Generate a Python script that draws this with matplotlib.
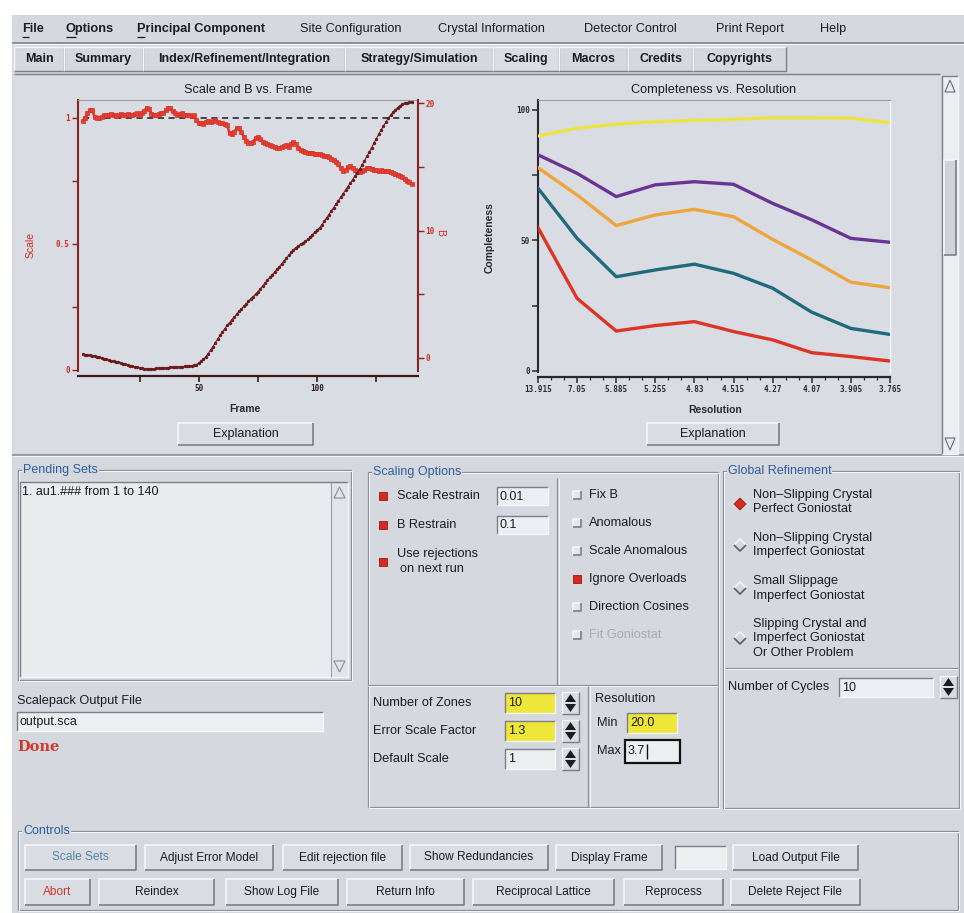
import matplotlib
matplotlib.use("Agg")
import matplotlib.pyplot as plt
from matplotlib.patches import Rectangle, Polygon

# ---------------- data ----------------
frames = list(range(1, 141))
scale_values = [
    0.988, 0.998, 1.018, 1.030, 1.032, 1.005, 1.000, 0.998, 1.005, 1.010,
    1.012, 1.010, 1.014, 1.012, 1.008, 1.012, 1.015, 1.010, 1.012, 1.016,
    1.012, 1.010, 1.015, 1.018, 1.012, 1.020, 1.028, 1.040, 1.035, 1.015,
    1.012, 1.010, 1.015, 1.020, 1.018, 1.030, 1.038, 1.040, 1.028, 1.018,
    1.012, 1.015, 1.018, 1.012, 1.010, 1.012, 1.008, 1.010, 0.990, 0.980,
    0.978, 0.976, 0.985, 0.988, 0.982, 0.986, 0.990, 0.984, 0.980, 0.978,
    0.975, 0.972, 0.940, 0.935, 0.945, 0.958, 0.960, 0.945, 0.925, 0.910,
    0.902, 0.900, 0.905, 0.920, 0.925, 0.915, 0.905, 0.900, 0.895, 0.892,
    0.888, 0.885, 0.882, 0.880, 0.884, 0.888, 0.892, 0.885, 0.895, 0.905,
    0.895, 0.880, 0.872, 0.868, 0.865, 0.862, 0.860, 0.862, 0.858, 0.856,
    0.858, 0.852, 0.850, 0.848, 0.845, 0.838, 0.832, 0.826, 0.818, 0.800,
    0.790, 0.792, 0.805, 0.810, 0.800, 0.792, 0.788, 0.785, 0.790, 0.795,
    0.800, 0.802, 0.798, 0.795, 0.792, 0.790, 0.792, 0.790, 0.788, 0.790,
    0.785, 0.780, 0.776, 0.772, 0.770, 0.765, 0.758, 0.750, 0.745, 0.738]
b_values = [
    0.30, 0.27, 0.24, 0.20, 0.18, 0.14, 0.10, 0.06, 0.02, -0.04,
    -0.10, -0.16, -0.20, -0.24, -0.30, -0.34, -0.38, -0.44, -0.50, -0.55,
    -0.60, -0.64, -0.68, -0.72, -0.76, -0.80, -0.84, -0.86, -0.86, -0.85,
    -0.84, -0.82, -0.80, -0.79, -0.78, -0.76, -0.75, -0.73, -0.72, -0.71,
    -0.70, -0.69, -0.68, -0.66, -0.64, -0.62, -0.60, -0.58, -0.52, -0.40,
    -0.25, -0.10, 0.10, 0.35, 0.62, 0.90, 1.20, 1.48, 1.78, 2.05,
    2.30, 2.55, 2.78, 3.00, 3.22, 3.45, 3.65, 3.85, 4.05, 4.25,
    4.45, 4.65, 4.82, 5.00, 5.20, 5.42, 5.65, 5.88, 6.10, 6.32,
    6.52, 6.74, 6.95, 7.15, 7.38, 7.60, 7.82, 8.05, 8.28, 8.50,
    8.65, 8.80, 8.92, 9.05, 9.15, 9.30, 9.48, 9.68, 9.88, 10.05,
    10.20, 10.45, 10.72, 10.98, 11.25, 11.52, 11.80, 12.08, 12.35, 12.62,
    12.90, 13.18, 13.45, 13.72, 14.00, 14.28, 14.55, 14.82, 15.15, 15.48,
    15.82, 16.15, 16.50, 16.85, 17.20, 17.55, 17.88, 18.20, 18.50, 18.80,
    19.05, 19.28, 19.48, 19.65, 19.80, 19.90, 19.98, 20.02, 20.05, 20.05]
reference_scale = 1.0
frame_ticks = [25, 50, 75, 100, 125]
frame_tick_labels = ["", "50", "", "100", ""]
scale_ticks = [0, 0.25, 0.5, 0.75, 1]
scale_tick_labels = ["0", "", "0.5", "", "1"]
b_ticks = [0, 5, 10, 15, 20]
b_tick_labels = ["0", "", "10", "", "20"]

resolution_labels = ["13.915", "7.05", "5.885", "5.255", "4.83",
                     "4.515", "4.27", "4.07", "3.905", "3.765"]
completeness_yellow = [90.0, 93.0, 94.5, 95.5, 96.0, 96.4, 97.0, 97.0, 96.8, 95.1]
completeness_purple = [82.8, 75.7, 66.8, 71.3, 72.5, 71.5, 64.2, 57.9, 50.8, 49.3]
completeness_orange = [77.9, 67.4, 55.7, 59.8, 61.9, 59.1, 50.4, 42.5, 34.0, 31.9]
completeness_teal = [70.0, 50.8, 36.1, 38.7, 40.9, 37.4, 31.7, 22.5, 16.3, 14.0]
completeness_red = [54.9, 27.8, 15.3, 17.4, 18.9, 15.1, 11.9, 7.0, 5.5, 3.8]
completeness_ticks = [0, 25, 50, 75, 100]
completeness_tick_labels = ["0", "", "50", "", "100"]

menu_items = ["File", "Options", "Principal Component", "Site Configuration",
              "Crystal Information", "Detector Control", "Print Report", "Help"]
menu_bold = [True, True, True, False, False, False, False, False]
tab_items = ["Main", "Summary", "Index/Refinement/Integration", "Strategy/Simulation",
             "Scaling", "Macros", "Credits", "Copyrights"]
left_options = ["Scale Restrain", "B Restrain"]
left_option_values = ["0.01", "0.1"]
right_options = ["Fix B", "Anomalous", "Scale Anomalous", "Ignore Overloads",
                 "Direction Cosines", "Fit Goniostat"]
right_checked = [False, False, False, True, False, False]
zone_fields = ["Number of Zones", "Error Scale Factor", "Default Scale"]
zone_values = ["10", "1.3", "1"]
refinement_options = [["Non\u2013Slipping Crystal", "Perfect Goniostat"],
                      ["Non\u2013Slipping Crystal", "Imperfect Goniostat"],
                      ["Small Slippage", "Imperfect Goniostat"],
                      ["Slipping Crystal and", "Imperfect Goniostat", "Or Other Problem"]]
buttons_row1 = ["Scale Sets", "Adjust Error Model", "Edit rejection file",
                "Show Redundancies", "Display Frame", "", "Load Output File"]
buttons_row2 = ["Abort", "Reindex", "Show Log File", "Return Info",
                "Reciprocal Lattice", "Reprocess", "Delete Reject File"]

# ---------------- figure ----------------
W, H = 964, 913
fig = plt.figure(figsize=(W / 100, H / 100), dpi=100)
fig.patch.set_facecolor("white")
gui = fig.add_axes([0, 0, 1, 1])
gui.set_xlim(0, W)
gui.set_ylim(H, 0)
gui.axis("off")

FONT = ["Liberation Sans", "DejaVu Sans"]
BG = "#d5d8df"
PANE = "#d9dce3"
LIGHT = "#f5f6f8"
DARK = "#7b7e86"
TXT = "#1c1c1c"
BLUE = "#2f5f9c"
RED = "#d42a20"
YELLOW = "#efe63a"
ENTRY = "#eceef2"


def rect(x0, y0, x1, y1, fc, ec="none", lw=1.0, z=1):
    gui.add_patch(Rectangle((x0, y0), x1 - x0, y1 - y0, facecolor=fc,
                            edgecolor=ec, linewidth=lw, zorder=z))


def line(xs, ys, c, lw=1.0, z=2):
    gui.plot(xs, ys, color=c, lw=lw, zorder=z, solid_capstyle="butt")


def txt(x, y, s, size=9, weight="normal", color=TXT, ha="left", va="center",
        family=None, **kw):
    gui.text(x, y, s, fontsize=size, fontweight=weight, color=color, ha=ha,
             va=va, family=family or FONT, zorder=5, **kw)


def bevel(x0, y0, x1, y1, raised=True, lw=1.0, z=3):
    a, b = (LIGHT, DARK) if raised else (DARK, LIGHT)
    line([x0, x0, x1], [y1, y0, y0], a, lw, z)
    line([x0, x1, x1], [y1, y1, y0], b, lw, z)


def button(x0, y0, x1, y1, label, color=TXT, size=8.6):
    rect(x0, y0, x1, y1, "#d9dce3", z=2)
    bevel(x0, y0, x1, y1, True, 1.2)
    txt((x0 + x1) / 2, (y0 + y1) / 2, label, size=size, color=color, ha="center")


def entry(x0, y0, x1, y1, value, fc=ENTRY, size=9):
    rect(x0, y0, x1, y1, fc, z=2)
    bevel(x0, y0, x1, y1, False, 1.0)
    txt(x0 + 3, (y0 + y1) / 2 + 0.5, value, size=size)


def group(x0, y0, x1, y1, title):
    gui.add_patch(Rectangle((x0, y0), x1 - x0, y1 - y0, fill=False,
                            edgecolor="#8d9097", linewidth=0.9, zorder=2))
    gui.add_patch(Rectangle((x0 + 1, y0 + 1), x1 - x0, y1 - y0, fill=False,
                            edgecolor=LIGHT, linewidth=0.7, zorder=2))
    txt(x0 + 5, y0, title, size=9, color=BLUE,
        bbox=dict(facecolor=BG, edgecolor="none", pad=0.5))


def checkbox(x, y, checked):
    if checked:
        rect(x - 4, y - 4, x + 4, y + 4, RED, "#9a1a14", 0.6, z=3)
    else:
        rect(x - 4, y - 4, x + 4, y + 4, "#e4e6ea", z=3)
        bevel(x - 4, y - 4, x + 4, y + 4, True, 1.2, z=4)


def radio(x, y, selected):
    pts = [(x - 6, y), (x, y - 6), (x + 6, y), (x, y + 6)]
    if selected:
        gui.add_patch(Polygon(pts, closed=True, facecolor=RED,
                              edgecolor="#9a1a14", lw=0.6, zorder=3))
    else:
        line([x - 6, x, x + 6], [y, y - 6, y], LIGHT, 1.2, 3)
        line([x - 6, x, x + 6], [y, y + 6, y], "#5a5d64", 1.2, 3)


def spinner(x0, y0, x1, y1):
    rect(x0, y0, x1, y1, "#d9dce3", z=2)
    bevel(x0, y0, x1, y1, True, 1.0)
    xm = (x0 + x1) / 2
    ym = (y0 + y1) / 2
    gui.add_patch(Polygon([(x0 + 3, ym - 1), (xm, y0 + 2), (x1 - 3, ym - 1)],
                          closed=True, facecolor="#1c1c1c", zorder=4))
    gui.add_patch(Polygon([(x0 + 3, ym + 1), (xm, y1 - 2), (x1 - 3, ym + 1)],
                          closed=True, facecolor="#1c1c1c", zorder=4))


# window background
rect(12, 15, W, H, BG, z=0)

# ---------------- menu bar ----------------
menu_x = [22, 66, 137, 300, 438, 584, 716, 820]
for mx, item, bold in zip(menu_x, menu_items, menu_bold):
    txt(mx, 29, item, size=9.2, weight="bold" if bold else "normal")
for ux, uw in [(22, 7), (66, 10), (137, 8)]:
    line([ux, ux + uw], [37, 37], TXT, 0.9, 5)
line([12, W], [43, 43], "#8a8d94", 1.4)
line([12, W], [44.5, 44.5], LIGHT, 0.8)

# ---------------- tabs ----------------
tab_edges = [14, 64, 143, 345, 493, 559, 628, 693, 786]
for i, lab in enumerate(tab_items):
    x0, x1 = tab_edges[i], tab_edges[i + 1]
    rect(x0, 47, x1, 71, "#dadde4" if lab == "Scaling" else BG, z=1)
    bevel(x0, 47, x1, 71, True, 1.0)
    txt((x0 + x1) / 2, 59, lab, size=9.0, weight="bold", ha="center")

# ---------------- chart pane ----------------
rect(14, 74, 940, 455, PANE, z=1)
line([14, 940], [74, 74], DARK, 1.0)
line([12, W], [455, 455], "#8a8d94", 1.2)
line([12, W], [456.5, 456.5], LIGHT, 0.8)
# scrollbar
rect(942, 76, 958, 454, "#eceef1", z=1)
bevel(942, 76, 958, 454, False, 1.0)
rect(944, 160, 956, 255, "#d0d3da", z=2)
bevel(944, 160, 956, 255, True, 1.2)
gui.add_patch(Polygon([(945, 92), (950, 80), (955, 92)], closed=True,
                      facecolor="none", edgecolor="#6a6d74", lw=0.8, zorder=3))
gui.add_patch(Polygon([(945, 438), (950, 450), (955, 438)], closed=True,
                      facecolor="none", edgecolor="#6a6d74", lw=0.8, zorder=3))

button(178, 423, 313, 445, "Explanation", size=9)
button(647, 423, 779, 445, "Explanation", size=9)


def ax_rect(x0, y0, x1, y1):
    return [x0 / W, 1 - y1 / H, (x1 - x0) / W, (y1 - y0) / H]


def style_ticklabels(labels, color):
    for t in labels:
        t.set_family("DejaVu Sans Mono")
        t.set_fontweight("bold")
        t.set_fontsize(5.5)
        t.set_color(color)


# ---------------- left chart ----------------
ax1 = fig.add_axes(ax_rect(78, 100, 418, 371))
ax1.patch.set_visible(False)
ax1b = ax1.twinx()
ax1b.patch.set_visible(False)
for a in (ax1, ax1b):
    for s in a.spines.values():
        s.set_visible(False)
ax1.spines["left"].set_visible(True)
ax1.spines["left"].set_color("#8b2222")
ax1.spines["left"].set_linewidth(1.5)
ax1.spines["bottom"].set_visible(True)
ax1.spines["bottom"].set_color("#3a1818")
ax1.spines["bottom"].set_linewidth(1.6)
ax1.spines["bottom"].set_position(("outward", 3.5))
ax1.spines["top"].set_visible(True)
ax1.spines["top"].set_color("#9a9ca3")
ax1.spines["top"].set_linewidth(0.8)
ax1b.spines["right"].set_visible(True)
ax1b.spines["right"].set_color("#8b2222")
ax1b.spines["right"].set_linewidth(1.5)

ax1.plot(frames, scale_values, color="#e2372b", lw=1.9, marker="s", ms=2.8,
         mfc="#e5402f", mec="#d8302a", mew=0.5, zorder=3)
ax1.hlines(reference_scale, frames[0], frames[-1], colors="#1a1a1a",
           linestyles=(0, (4, 3)), lw=1.1, zorder=2)
ax1b.plot(frames, b_values, color="#7c1f1f", lw=0.8, marker="o", ms=1.4,
          mec="#6a1a1a", mfc="#6a1a1a", zorder=3)
ax1.set_xlim(-1.0, 142.6)
ax1.set_ylim(-0.004, 1.071)
ax1b.set_ylim(-1.02, 20.24)
ax1.set_xticks(frame_ticks)
ax1.set_xticklabels(frame_tick_labels)
ax1.set_yticks(scale_ticks)
ax1.set_yticklabels(scale_tick_labels)
ax1b.set_yticks(b_ticks)
ax1b.set_yticklabels(b_tick_labels)
ax1.tick_params(axis="y", colors="#8b2222", length=4, width=1, pad=2)
ax1.tick_params(axis="x", colors="#3a1818", length=4, width=1.2, pad=2)
ax1b.tick_params(axis="y", colors="#8b2222", length=4, width=1, pad=1.5)
style_ticklabels(ax1.get_xticklabels(), "#2a1a1a")
style_ticklabels(ax1.get_yticklabels(), RED)
style_ticklabels(ax1b.get_yticklabels(), RED)
ax1.set_title("Scale and B vs. Frame", fontsize=9.2, family=FONT, color=TXT, pad=5)
ax1.set_xlabel("Frame", fontsize=7.5, fontweight="bold", family=FONT, color="#2a2a2a")
ax1.xaxis.set_label_coords(0.49, -0.12)
ax1.set_ylabel("Scale", fontsize=7.5, family=FONT, color=RED)
ax1.yaxis.set_label_coords(-0.124, 0.465)
ax1b.set_ylabel("B", fontsize=7.5, family=FONT, color=RED, rotation=270)
ax1b.yaxis.set_label_coords(1.08, 0.513)

# ---------------- right chart ----------------
ax2 = fig.add_axes(ax_rect(538, 100, 890, 372))
ax2.patch.set_visible(False)
for s in ax2.spines.values():
    s.set_visible(False)
ax2.spines["left"].set_visible(True)
ax2.spines["left"].set_color("#2a2a2a")
ax2.spines["left"].set_linewidth(1.5)
ax2.spines["bottom"].set_visible(True)
ax2.spines["bottom"].set_color("#2a2a2a")
ax2.spines["bottom"].set_linewidth(1.6)
ax2.spines["bottom"].set_position(("outward", 3.5))
ax2.spines["top"].set_visible(True)
ax2.spines["top"].set_color("#9a9ca3")
ax2.spines["top"].set_linewidth(0.8)
ax2.spines["right"].set_visible(True)
ax2.spines["right"].set_color(LIGHT)
ax2.spines["right"].set_linewidth(1.0)

xpos = list(range(len(resolution_labels)))
for vals, col in [(completeness_yellow, "#ece444"), (completeness_purple, "#6b3394"),
                  (completeness_orange, "#eea53c"), (completeness_teal, "#1f6a7c"),
                  (completeness_red, "#df3326")]:
    ax2.plot(xpos, vals, color=col, lw=2.4, solid_joinstyle="round", zorder=3)
ax2.set_xlim(0, len(resolution_labels) - 1)
ax2.set_ylim(-0.4, 103.8)
ax2.set_xticks(xpos)
ax2.set_xticklabels(resolution_labels)
ax2.set_xticks([p + f for p in xpos[:-1] for f in (1 / 3, 2 / 3)], minor=True)
ax2.set_yticks(completeness_ticks)
ax2.set_yticklabels(completeness_tick_labels)
ax2.tick_params(axis="both", which="major", colors="#2a2a2a", length=4, width=1.1, pad=2)
ax2.tick_params(axis="x", which="minor", colors="#2a2a2a", length=2.5, width=0.9)
style_ticklabels(ax2.get_xticklabels(), "#2a2a2a")
style_ticklabels(ax2.get_yticklabels(), "#2a2a2a")
ax2.set_title("Completeness vs. Resolution", fontsize=9.2, family=FONT, color=TXT, pad=5)
ax2.set_xlabel("Resolution", fontsize=7.5, fontweight="bold", family=FONT, color="#2a2a2a")
ax2.xaxis.set_label_coords(0.503, -0.12)
ax2.set_ylabel("Completeness", fontsize=7.5, fontweight="bold", family=FONT, color="#2a2a2a")
ax2.yaxis.set_label_coords(-0.122, 0.496)

# ---------------- pending sets ----------------
group(18, 470, 351, 680, "Pending Sets")
rect(20, 482, 331, 677, "#e9ebef", z=2)
bevel(20, 482, 348, 677, False, 1.0)
rect(331, 482, 348, 677, "#e2e4e9", z=2)
line([331, 331], [482, 677], "#9a9da4", 0.8, 3)
gui.add_patch(Polygon([(334, 498), (339.5, 487), (345, 498)], closed=True,
                      facecolor="none", edgecolor="#8a8d94", lw=0.8, zorder=3))
gui.add_patch(Polygon([(334, 661), (339.5, 672), (345, 661)], closed=True,
                      facecolor="none", edgecolor="#8a8d94", lw=0.8, zorder=3))
txt(22, 492, "1. au1.### from 1 to 140", size=9)
txt(17, 701, "Scalepack Output File", size=9.2)
entry(17, 712, 323, 731, "output.sca")
txt(17, 747, "Done", size=10.5, weight="bold", color="#d0392b", family=["DejaVu Serif"])

# ---------------- scaling options ----------------
group(368, 472, 718, 807, "Scaling Options")
line([557, 557], [478, 685], "#8d9097", 0.9)
line([558.5, 558.5], [478, 685], LIGHT, 0.7)
line([368, 718], [685, 685], "#8d9097", 0.9)
line([368, 718], [686.5, 686.5], LIGHT, 0.7)
line([588, 588], [686, 807], "#8d9097", 0.9)
line([589.5, 589.5], [686, 807], LIGHT, 0.7)

for i, (lab, val) in enumerate(zip(left_options, left_option_values)):
    y = 496 + 29 * i
    checkbox(383, y, True)
    txt(397, y, lab, size=9.2)
    entry(497, y - 9, 548, y + 9, val)
checkbox(383, 562, True)
txt(397, 554, "Use rejections", size=9.2)
txt(400, 569, "on next run", size=9.2)

for i, (lab, chk) in enumerate(zip(right_options, right_checked)):
    y = 495 + 28 * i
    checkbox(577, y, chk)
    disabled = lab == "Fit Goniostat"
    txt(589, y, lab, size=9.2, color="#a9acb3" if disabled else TXT)

for i, (lab, val) in enumerate(zip(zone_fields, zone_values)):
    y = 703 + 28 * i
    txt(373, y, lab, size=9.2)
    entry(505, y - 10, 555, y + 10, val, fc=YELLOW if i < 2 else ENTRY)
    spinner(562, y - 11, 579, y + 11)

txt(595, 699, "Resolution", size=9.2)
txt(597, 723, "Min", size=9.2)
entry(627, 713, 677, 733, "20.0", fc=YELLOW)
txt(597, 751, "Max", size=9.2)
rect(625, 740, 680, 763, ENTRY, "#111111", 1.6, z=2)
txt(628, 751.5, "3.7", size=9)
line([647, 647], [744, 759], "#111111", 1.0, 6)

# ---------------- global refinement ----------------
group(723, 471, 959, 808, "Global Refinement")
opt_y = [495, 538, 581, 624]
for i, (lines_, y0) in enumerate(zip(refinement_options, opt_y)):
    for j, s in enumerate(lines_):
        txt(753, y0 + 14.5 * j, s, size=9.2)
    radio(740, y0 + 7 * (len(lines_) - 1) + (2 if i == 0 else 0), i == 0)
line([725, 958], [668, 668], "#8d9097", 0.9)
line([725, 958], [669.5, 669.5], LIGHT, 0.7)
txt(728, 687, "Number of Cycles", size=9.2)
entry(839, 678, 933, 697, "10")
spinner(940, 676, 957, 698)

# ---------------- controls ----------------
group(18, 831, 958, 910, "Controls")
row1_x = [(25, 136), (145, 273), (283, 402), (410, 548), (556, 662), (675, 726), (733, 858)]
for (x0, x1), lab in zip(row1_x, buttons_row1):
    if lab == "":
        entry(x0, 846, x1, 869, "")
    else:
        button(x0, 845, x1, 870, lab, color="#4f86a8" if lab == "Scale Sets" else TXT)
row2_x = [(25, 90), (99, 214), (226, 338), (347, 464), (473, 614), (624, 723), (731, 860)]
for (x0, x1), lab in zip(row2_x, buttons_row2):
    button(x0, 879, x1, 905, lab, color="#d0392b" if lab == "Abort" else TXT)

fig.savefig("out.png", dpi=100, facecolor="white")
